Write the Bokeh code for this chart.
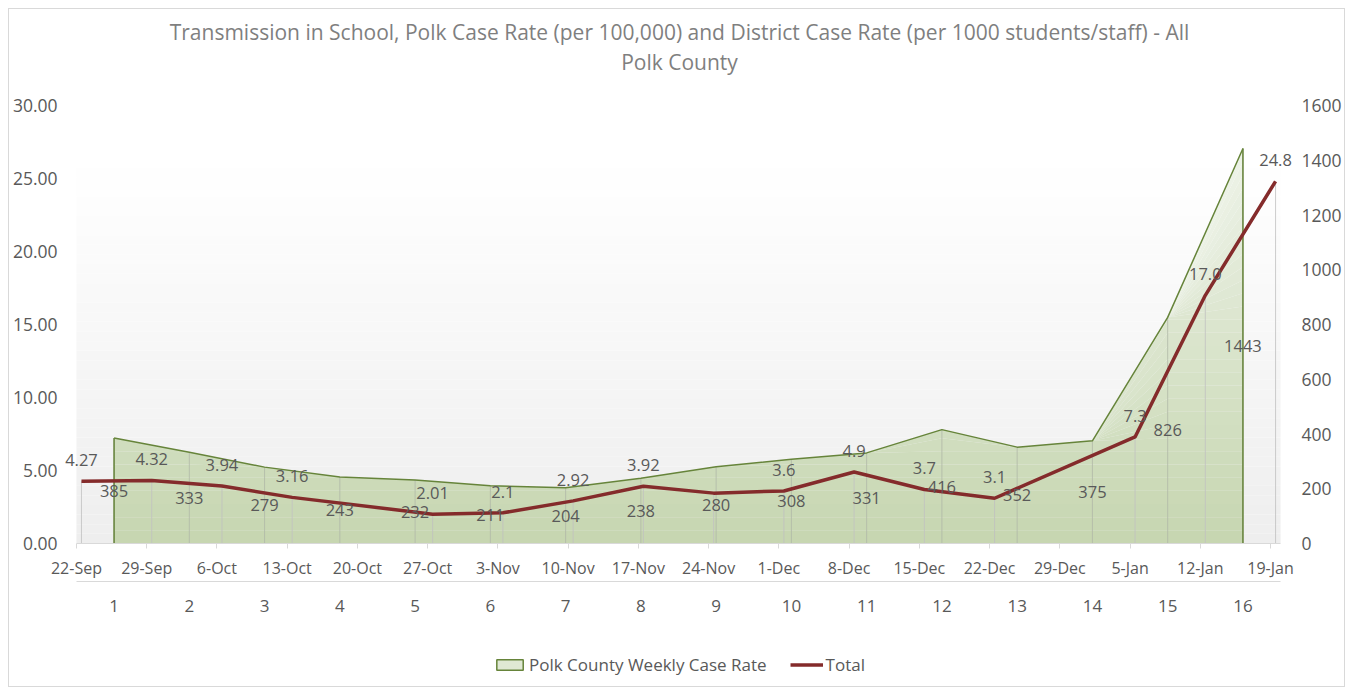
import numpy as np
import pandas as pd
from bokeh.plotting import figure
from bokeh.layouts import column
from bokeh.models import (Range1d, LinearAxis, ColumnDataSource, LabelSet, FixedTicker,
                          BoxAnnotation, Legend, LegendItem, NumeralTickFormatter)
from bokeh.core.properties import value
from bokeh.embed import file_html
from bokeh.resources import INLINE

# ---------------- data ----------------
title_lines = ["Transmission in School, Polk Case Rate (per 100,000) and District Case Rate "
               "(per 1000 students/staff) - All", "Polk County"]

weeks = list(range(1, 17))
polk_rate = [385, 333, 279, 243, 232, 211, 204, 238, 280, 308, 331, 416, 352, 375, 826, 1443]

date_ticks = ["22-Sep", "29-Sep", "6-Oct", "13-Oct", "20-Oct", "27-Oct", "3-Nov", "10-Nov",
              "17-Nov", "24-Nov", "1-Dec", "8-Dec", "15-Dec", "22-Dec", "29-Dec", "5-Jan",
              "12-Jan", "19-Jan"]

total_dates = ["22-Sep", "29-Sep", "6-Oct", "13-Oct", "27-Oct", "3-Nov", "10-Nov", "17-Nov",
               "24-Nov", "1-Dec", "8-Dec", "15-Dec", "22-Dec", "5-Jan", "12-Jan", "19-Jan"]
total_vals = [4.27, 4.32, 3.94, 3.16, 2.01, 2.1, 2.92, 3.92, 3.45, 3.6, 4.9, 3.7, 3.1, 7.3, 17.0, 24.8]
total_labels = ["4.27", "4.32", "3.94", "3.16", "2.01", "2.1", "2.92", "3.92", "", "3.6", "4.9",
                "3.7", "3.1", "7.3", "17.0", "24.8"]

legend_labels = ["Polk County Weekly Case Rate", "Total"]

# ---------------- helpers ----------------
def to_day(s):
    yr = "2021" if s.endswith("Jan") else "2020"
    return pd.to_datetime(s + "-" + yr, format="%d-%b-%Y")

origin = to_day(date_ticks[0])
tick_days = [(to_day(d) - origin).days for d in date_ticks]
total_days = [(to_day(d) - origin).days + 0.5 for d in total_dates]   # points centred in the day
span_days = tick_days[-1] + 1                      # date axis covers 22-Sep .. 20-Jan
days_per_cat = span_days / len(weeks)

FONT = "Open Sans"
TXT = "#595959"
OLIVE = "#66843a"
RED = "#842b2b"
AXIS_GREY = "#d9d9d9"
W = 1335

# layout constants (pixels)
PX_PER_DAY = 10.067
PAD_L, PAD_R = 18, 20          # frame extends beyond the date axis so edge labels are not clipped
x_start = -PAD_L / PX_PER_DAY
x_end = span_days + PAD_R / PX_PER_DAY

# ---------------- title strip ----------------
tf = figure(width=W, height=82, output_backend="svg", toolbar_location=None,
            x_range=Range1d(0, 1), y_range=Range1d(0, 82), x_axis_type=None, y_axis_type=None,
            min_border=0, min_border_left=0, min_border_right=0, min_border_top=0,
            min_border_bottom=0, outline_line_color=None)
tf.grid.visible = False
tf.text(x=[0.5, 0.5], y=[60, 30], text=title_lines, text_align="center", text_baseline="middle",
        text_font=value(FONT), text_font_size="21px", text_color="#7f7f7f")

# ---------------- main chart ----------------
p = figure(width=W, height=548, output_backend="svg", toolbar_location=None,
           x_range=Range1d(x_start, x_end), y_range=Range1d(0, 30),
           min_border_left=48, min_border_right=42, min_border_top=14, min_border_bottom=96)
p.extra_x_ranges = {"cat": Range1d(0.5 + x_start / days_per_cat, 0.5 + x_end / days_per_cat)}
p.extra_y_ranges = {"right": Range1d(0, 1600)}
p.outline_line_color = None
p.xgrid.visible = False
p.ygrid.visible = False
p.background_fill_color = "white"

# plot-area gradient (white at top -> light grey at bottom)
nb = 40
g_top = 26.4
for k in range(nb):
    lo = g_top * k / nb
    hi = g_top * (k + 1) / nb
    t = (k + 0.5) / nb
    c = int(round(0xee + (0xff - 0xee) * t))
    p.add_layout(BoxAnnotation(bottom=lo, top=hi, left=0, right=span_days,
                               fill_color=f"#{c:02x}{c:02x}{c:02x}",
                               fill_alpha=1.0, line_color=None, level="underlay"))

# area with vertical gradient
vals = np.array(polk_rate, dtype=float)
vmax = vals.max()
nbands = 30
c_bot = np.array([0xc6, 0xd6, 0xb0])
c_top = np.array([0xed, 0xf2, 0xe7])
for k in range(nbands):
    lo = vmax * k / nbands
    hi = vmax * (k + 1) / nbands
    t = (k + 0.5) / nbands
    col = (c_bot + (c_top - c_bot) * t).round().astype(int)
    p.varea(x=weeks, y1=np.minimum(vals, lo), y2=np.minimum(vals, hi),
            fill_color="#%02x%02x%02x" % tuple(col), fill_alpha=1.0,
            x_range_name="cat", y_range_name="right")

# drop lines
p.segment(x0=weeks, y0=[0] * len(weeks), x1=weeks, y1=polk_rate, line_color="#b0b8a8",
          line_alpha=0.8, line_width=1, x_range_name="cat", y_range_name="right")
p.segment(x0=total_days, y0=[0] * len(total_days), x1=total_days, y1=total_vals,
          line_color="#c0c0c0", line_alpha=0.8, line_width=1)

# area outline
p.line(weeks, polk_rate, line_color=OLIVE, line_width=1.5, x_range_name="cat", y_range_name="right")
p.segment(x0=[weeks[0], weeks[-1]], y0=[0, 0], x1=[weeks[0], weeks[-1]],
          y1=[polk_rate[0], polk_rate[-1]], line_color=OLIVE, line_width=1.5,
          x_range_name="cat", y_range_name="right")

# Total line
p.line(total_days, total_vals, line_color=RED, line_width=3.5)

# labels
area_src = ColumnDataSource(dict(x=weeks, y=[v / 2 for v in polk_rate], t=[str(v) for v in polk_rate]))
p.add_layout(LabelSet(x="x", y="y", text="t", source=area_src, x_range_name="cat",
                      y_range_name="right", text_align="center", text_baseline="middle",
                      text_font=value(FONT), text_font_size="16.5px", text_color=TXT))
line_src = ColumnDataSource(dict(x=total_days, y=total_vals, t=total_labels))
p.add_layout(LabelSet(x="x", y="y", text="t", source=line_src, y_offset=21,
                      text_align="center", text_baseline="middle",
                      text_font=value(FONT), text_font_size="16.5px", text_color=TXT))

# axes
def style_labels(ax, size="16px"):
    ax.major_label_text_font = FONT
    ax.major_label_text_font_size = size
    ax.major_label_text_color = TXT
    ax.minor_tick_line_color = None

ly = p.yaxis[0]
ly.ticker = FixedTicker(ticks=[0, 5, 10, 15, 20, 25, 30])
ly.formatter = NumeralTickFormatter(format="0.00")
ly.axis_line_color = None
ly.major_tick_line_color = None
ly.major_tick_out = 0
ly.major_tick_in = 0
ly.major_label_standoff = 1
style_labels(ly, "17.5px")

ry = LinearAxis(y_range_name="right", ticker=FixedTicker(ticks=list(range(0, 1601, 200))))
ry.axis_line_color = None
ry.major_tick_line_color = None
ry.major_tick_out = 0
ry.major_tick_in = 0
ry.major_label_standoff = 1
style_labels(ry, "17.5px")
p.add_layout(ry, "right")

bx = p.xaxis[0]
bx.ticker = FixedTicker(ticks=tick_days)
bx.bounds = (0, span_days)
bx.major_label_overrides = {d: s for d, s in zip(tick_days, date_ticks)}
bx.axis_line_color = AXIS_GREY
bx.major_tick_line_color = AXIS_GREY
bx.major_tick_out = 5
bx.major_tick_in = 0
bx.major_label_standoff = 8
style_labels(bx, "16px")

cx = LinearAxis(x_range_name="cat", ticker=FixedTicker(ticks=weeks))
cx.bounds = (0.5, len(weeks) + 0.5)
cx.axis_line_color = AXIS_GREY
cx.major_tick_line_color = None
cx.major_tick_out = 0
cx.major_tick_in = 0
cx.major_label_standoff = 18
style_labels(cx, "17px")
p.add_layout(cx, "below")

# ---------------- legend strip ----------------
lf = figure(width=W, height=47, output_backend="svg", toolbar_location=None,
            x_range=Range1d(0, 1), y_range=Range1d(0, 1), x_axis_type=None, y_axis_type=None,
            min_border=0, min_border_left=0, min_border_right=0, min_border_top=0,
            min_border_bottom=0, outline_line_color=None)
lf.grid.visible = False
sw_area = lf.quad(left=[np.nan], right=[np.nan], top=[np.nan], bottom=[np.nan],
                  fill_color="#dfe8d4", line_color=OLIVE, line_width=1.5)
sw_line = lf.line(x=[np.nan], y=[np.nan], line_color=RED, line_width=3.5)
legend = Legend(items=[LegendItem(label=legend_labels[0], renderers=[sw_area]),
                       LegendItem(label=legend_labels[1], renderers=[sw_line])],
                orientation="horizontal", location="bottom_center", margin=10, padding=4,
                spacing=23, glyph_width=33, glyph_height=13, label_standoff=3,
                label_text_font=FONT, label_text_font_size="17px", label_text_color=TXT,
                border_line_color=None, background_fill_alpha=0)
lf.add_layout(legend)

page = column(tf, p, lf, margin=(8, 0, 0, 8), styles={"border": "1px solid #d9d9d9"})

open("out.html", "w").write(file_html(page, INLINE))
